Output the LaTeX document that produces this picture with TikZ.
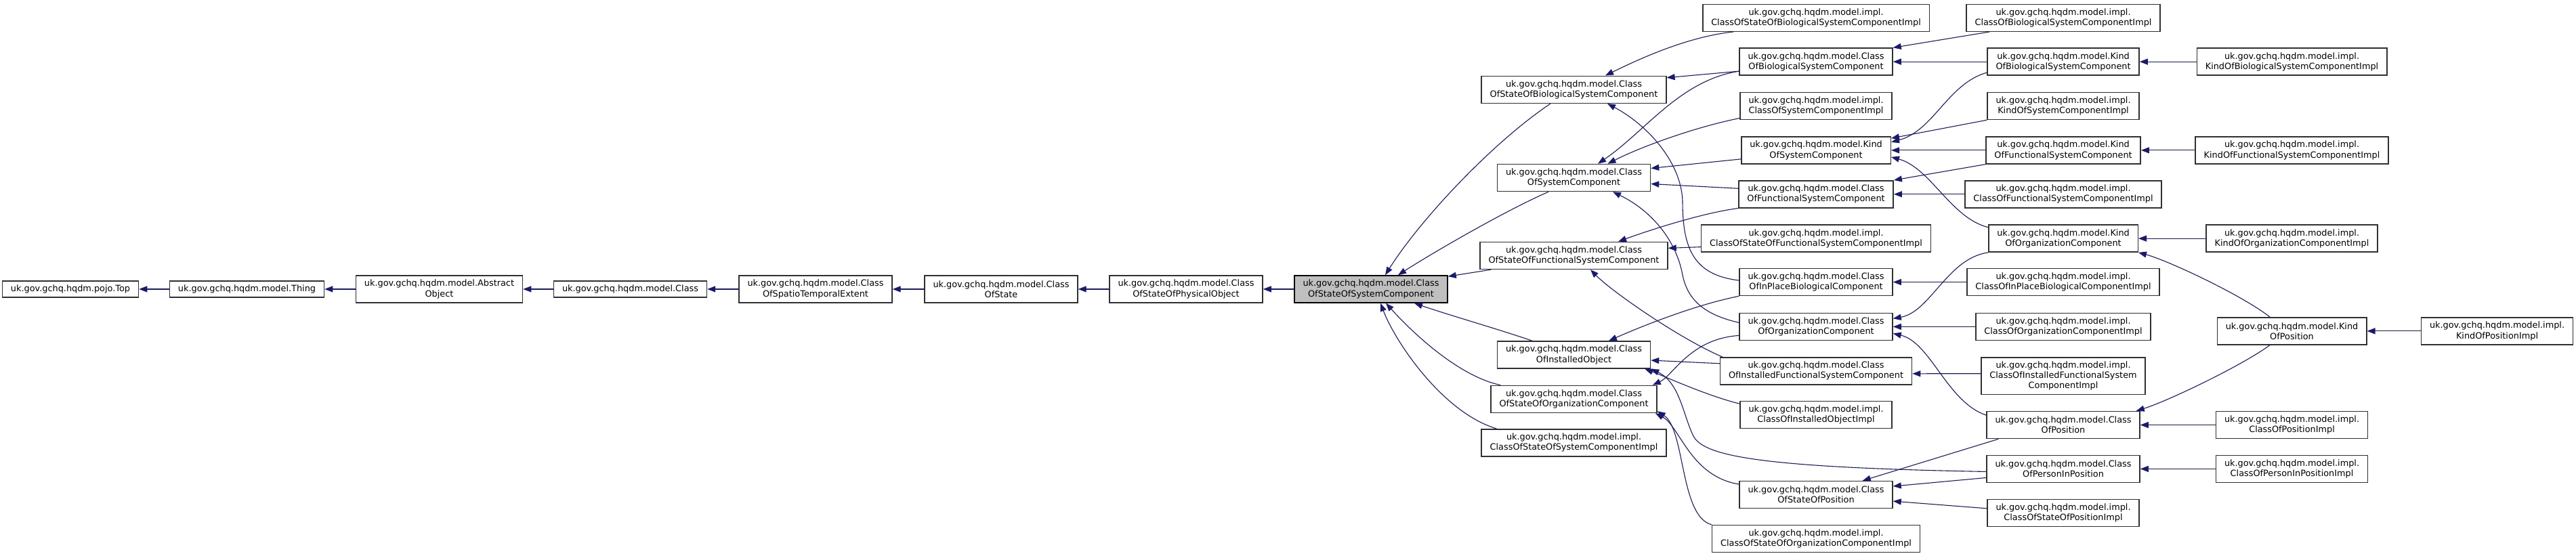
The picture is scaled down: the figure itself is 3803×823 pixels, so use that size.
\documentclass[tikz,border=0pt]{standalone}
\usepackage{fontspec}
\setmainfont{DejaVu Sans}
\usetikzlibrary{arrows.meta}
\definecolor{edgecol}{RGB}{25,25,112}
\definecolor{boxborder}{RGB}{48,48,48}
\definecolor{mainfill}{RGB}{191,191,191}
\newcommand{\hqm}{uk.gov.gchq.hqdm.model.}
\newcommand{\hqi}{uk.gov.gchq.hqdm.model.impl.}
\begin{document}
\begin{tikzpicture}[x=1pt,y=-0.9906pt,
  box/.style={draw=boxborder, line width=1.5pt, fill=white, align=center, inner xsep=12.5pt, inner ysep=1pt, font=\fontsize{12.85pt}{15.2pt}\selectfont},
  one/.style={minimum height=24pt},
  two/.style={minimum height=40pt},
  three/.style={minimum height=54.5pt},
  edge/.style={draw=edgecol, line width=1.1pt, {Triangle[length=12pt,width=9pt]}-}]
\useasboundingbox (0pt,0pt) rectangle (3803pt,-823pt);
% main chain
\node[box,one] (top) at (104,431) {uk.gov.gchq.hqdm.pojo.Top};
\node[box,one] (thing) at (364.5,431) {\hqm Thing};
\node[box,two] (abs) at (648.5,431) {\hqm Abstract\\Object};
\node[box,one] (cls) at (930.5,431) {\hqm Class};
\node[box,two] (spatio) at (1204,431) {\hqm Class\\OfSpatioTemporalExtent};
\node[box,two] (state) at (1478,431) {\hqm Class\\OfState};
\node[box,two] (phys) at (1751,431) {\hqm Class\\OfStateOfPhysicalObject};
\node[box,two,fill=mainfill,draw=black] (main) at (2024,431) {\hqm Class\\OfStateOfSystemComponent};
% column 8
\node[box,two] (sbio) at (2323.5,133.5) {\hqm Class\\OfStateOfBiologicalSystemComponent};
\node[box,two] (sys) at (2323.5,265) {\hqm Class\\OfSystemComponent};
\node[box,two] (sfun) at (2323.5,381) {\hqm Class\\OfStateOfFunctionalSystemComponent};
\node[box,two] (inst) at (2323.5,529) {\hqm Class\\OfInstalledObject};
\node[box,two] (sorg) at (2323.5,595) {\hqm Class\\OfStateOfOrganizationComponent};
\node[box,two] (ssysimpl) at (2323.5,660) {\hqi\\ClassOfStateOfSystemComponentImpl};
% column 9
\node[box,two] (sbioimpl) at (2681,26.5) {\hqi\\ClassOfStateOfBiologicalSystemComponentImpl};
\node[box,two] (cbio) at (2681,92) {\hqm Class\\OfBiologicalSystemComponent};
\node[box,two] (csysimpl) at (2681,158) {\hqi\\ClassOfSystemComponentImpl};
\node[box,two] (ksys) at (2681,224) {\hqm Kind\\OfSystemComponent};
\node[box,two] (cfun) at (2681,289.5) {\hqm Class\\OfFunctionalSystemComponent};
\node[box,two] (sfunimpl) at (2681,355.5) {\hqi\\ClassOfStateOfFunctionalSystemComponentImpl};
\node[box,two] (inplace) at (2681,420.5) {\hqm Class\\OfInPlaceBiologicalComponent};
\node[box,two] (corg) at (2681,487) {\hqm Class\\OfOrganizationComponent};
\node[box,two] (cinstfun) at (2681,553) {\hqm Class\\OfInstalledFunctionalSystemComponent};
\node[box,two] (cinstimpl) at (2681,618.5) {\hqi\\ClassOfInstalledObjectImpl};
\node[box,two] (sposition) at (2681,737.5) {\hqm Class\\OfStateOfPosition};
\node[box,two] (sorgimpl) at (2681,803) {\hqi\\ClassOfStateOfOrganizationComponentImpl};
% column 10
\node[box,two] (cbioimpl) at (3046,26.5) {\hqi\\ClassOfBiologicalSystemComponentImpl};
\node[box,two] (kbio) at (3046,92) {\hqm Kind\\OfBiologicalSystemComponent};
\node[box,two] (ksysimpl) at (3046,158) {\hqi\\KindOfSystemComponentImpl};
\node[box,two] (kfun) at (3046,224) {\hqm Kind\\OfFunctionalSystemComponent};
\node[box,two] (cfunimpl) at (3046,289.5) {\hqi\\ClassOfFunctionalSystemComponentImpl};
\node[box,two] (korg) at (3046,355.5) {\hqm Kind\\OfOrganizationComponent};
\node[box,two] (inplaceimpl) at (3046,420.5) {\hqi\\ClassOfInPlaceBiologicalComponentImpl};
\node[box,two] (corgimpl) at (3046,487) {\hqi\\ClassOfOrganizationComponentImpl};
\node[box,three] (cinstfunimpl) at (3046,560.5) {\hqi\\ClassOfInstalledFunctionalSystem\\ComponentImpl};
\node[box,two] (cpos) at (3046,633.5) {\hqm Class\\OfPosition};
\node[box,two] (cpip) at (3046,699) {\hqm Class\\OfPersonInPosition};
\node[box,two] (sposimpl) at (3046,764.5) {\hqi\\ClassOfStateOfPositionImpl};
% column 11
\node[box,two] (kbioimpl) at (3383.5,92) {\hqi\\KindOfBiologicalSystemComponentImpl};
\node[box,two] (kfunimpl) at (3383.5,224) {\hqi\\KindOfFunctionalSystemComponentImpl};
\node[box,two] (korgimpl) at (3383.5,355.5) {\hqi\\KindOfOrganizationComponentImpl};
\node[box,two] (kpos) at (3383.5,493.5) {\hqm Kind\\OfPosition};
\node[box,two] (cposimpl) at (3383.5,633.5) {\hqi\\ClassOfPositionImpl};
\node[box,two] (cpipimpl) at (3383.5,699) {\hqi\\ClassOfPersonInPositionImpl};
% column 12
\node[box,two] (kposimpl) at (3686.5,493.5) {\hqi\\KindOfPositionImpl};
% chain edges
\draw[edge] (top) -- (thing);
\draw[edge] (thing) -- (abs);
\draw[edge] (abs) -- (cls);
\draw[edge] (cls) -- (spatio);
\draw[edge] (spatio) -- (state);
\draw[edge] (state) -- (phys);
\draw[edge] (phys) -- (main);
% into main
\draw[edge] ([xshift=21pt]main.north) .. controls (2095,330) and (2200,215) .. ([xshift=-34.5pt]sbio.south);
\draw[edge] ([xshift=40pt]main.north) .. controls (2110,380) and (2220,315) .. ([xshift=-37.5pt]sys.south);
\draw[edge] ([yshift=-2pt]main.north east) -- ([xshift=17pt]sfun.south west);
\draw[edge] ([xshift=64pt]main.south) .. controls (2140,470) and (2210,490) .. ([xshift=-61.5pt]inst.north);
\draw[edge] ([xshift=22pt]main.south) .. controls (2080,490) and (2150,560) .. ([xshift=15pt]sorg.north west);
\draw[edge] ([xshift=14pt]main.south) .. controls (2060,510) and (2130,615) .. ([xshift=23pt]ssysimpl.north west);
% column 9 -> column 8
\draw[edge] ([xshift=46.5pt]sbio.north) .. controls (2420,88) and (2490,55) .. ([xshift=46pt]sbioimpl.south west);
\draw[edge] ([yshift=17.5pt]sbio.east) -- ([yshift=-14pt]cbio.west);
\draw[edge] ([xshift=35.5pt]sys.north) .. controls (2430,195) and (2480,120) .. ([yshift=-14pt]cbio.west);
\draw[edge] ([xshift=50pt]sys.north) .. controls (2420,220) and (2500,190) .. ([yshift=-18pt]csysimpl.west);
\draw[edge] ([yshift=14pt]sys.east) -- ([yshift=-13pt]ksys.west);
\draw[edge] ([yshift=-9pt]sys.east) -- ([yshift=8.5pt]cfun.west);
\draw[edge] ([xshift=65.5pt]sfun.north) .. controls (2430,345) and (2510,318) .. (cfun.south west);
\draw[edge] ([yshift=11pt]sfun.east) -- ([yshift=-12.5pt]sfunimpl.west);
\draw[edge] ([xshift=49.5pt]sbio.south) .. controls (2430,185) and (2482,240) .. (2484,300) .. controls (2484,370) and (2500,410) .. ([yshift=2.5pt]inplace.west);
\draw[edge] ([xshift=51.5pt]inst.north) .. controls (2420,488) and (2500,455) .. (inplace.south west);
\draw[edge] ([xshift=57.5pt]sys.south) .. controls (2440,315) and (2475,360) .. (2484,410) .. controls (2492,450) and (2520,470) .. ([yshift=6pt]corg.west);
\draw[edge] ([xshift=-7pt]sorg.north east) .. controls (2470,560) and (2495,505) .. ([yshift=-13pt]corg.west);
\draw[edge] ([xshift=24.5pt]sfun.south) .. controls (2380,435) and (2480,505) .. ([xshift=4pt]cinstfun.north west);
\draw[edge] ([yshift=-8pt]inst.east) -- ([yshift=11pt]cinstfun.west);
\draw[edge] ([xshift=-9pt]inst.south east) .. controls (2455,560) and (2520,590) .. ([yshift=16.5pt]cinstimpl.west);
\draw[edge] (inst.south east) .. controls (2480,570) and (2485,620) .. (2500,650) .. controls (2515,680) and (2600,697) .. ([yshift=-4pt]cpip.west);
\draw[edge] ([xshift=-3pt]sorg.south east) .. controls (2480,635) and (2495,710) .. ([yshift=15.5pt]sposition.west);
\draw[edge] ([yshift=3pt]sorg.south east) .. controls (2488,640) and (2480,770) .. (sorgimpl.north west);
% column 10 -> column 9
\draw[edge] (cbio.north east) -- ([xshift=35pt]cbioimpl.south west);
\draw[edge] (cbio) -- (kbio);
\draw[edge] ([yshift=12pt]ksys.east) .. controls (2855,195) and (2875,125) .. ([yshift=-16pt]kbio.west);
\draw[edge] ([yshift=-3pt]ksys.north east) -- (ksysimpl.south west);
\draw[edge] (ksys) -- (kfun);
\draw[edge] (cfun.north east) -- (kfun.south west);
\draw[edge] (cfun) -- (cfunimpl);
\draw[edge] ([yshift=-10pt]ksys.east) .. controls (2850,250) and (2880,325) .. ([yshift=16.5pt]korg.west);
\draw[edge] ([yshift=12pt]corg.east) .. controls (2850,465) and (2875,385) .. (korg.south west);
\draw[edge] (inplace) -- (inplaceimpl);
\draw[edge] (corg) -- (corgimpl);
\draw[edge] ([yshift=-10pt]corg.east) .. controls (2850,510) and (2875,600) .. ([yshift=14.5pt]cpos.west);
\draw[edge] ([yshift=-4pt]cinstfun.east) -- ([yshift=3.5pt]cinstfunimpl.west);
\draw[edge] ([xshift=-45pt]sposition.north east) -- ([xshift=18pt]cpos.south west);
\draw[edge] ([yshift=12.5pt]sposition.east) -- ([yshift=-13pt]cpip.west);
\draw[edge] ([yshift=-9.5pt]sposition.east) -- ([yshift=6.5pt]sposimpl.west);
% column 11 -> column 10
\draw[edge] (kbio) -- (kbioimpl);
\draw[edge] (kfun) -- (kfunimpl);
\draw[edge] (korg) -- (korgimpl);
\draw[edge] (korg.south east) .. controls (3200,388) and (3310,440) .. ([xshift=-32.5pt]kpos.north);
\draw[edge] ([xshift=-6pt]cpos.north east) .. controls (3200,598) and (3310,545) .. ([xshift=-32.5pt]kpos.south);
\draw[edge] (cpos) -- (cposimpl);
\draw[edge] (cpip) -- (cpipimpl);
% column 12 -> column 11
\draw[edge] (kpos) -- (kposimpl);
\end{tikzpicture}
\end{document}
